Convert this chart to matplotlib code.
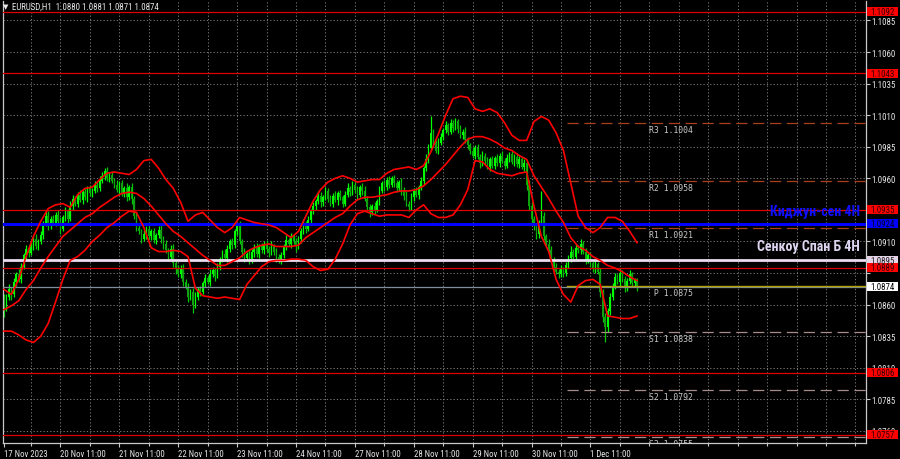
import matplotlib
matplotlib.use("Agg")
import matplotlib.pyplot as plt
import matplotlib.transforms as mtransforms
from matplotlib.patches import Rectangle
from matplotlib import font_manager as fm
from matplotlib.font_manager import FontProperties
from matplotlib.ft2font import FT2Font
import numpy as np

# ---------------- data ----------------
title_text = "\u25BC EURUSD,H1  1.0880 1.0881 1.0871 1.0874"

first_open = 1.0865
closes = [
    1.0858, 1.0866, 1.0872, 1.0868, 1.0878, 1.0884, 1.0880, 1.0890, 1.0899, 1.0904,
    1.0901, 1.0907, 1.0912, 1.0906, 1.0910, 1.0915, 1.0924, 1.0930, 1.0922, 1.0928,
    1.0925, 1.0931, 1.0926, 1.0920, 1.0929, 1.0934, 1.0928, 1.0938, 1.0944, 1.0940,
    1.0947, 1.0943, 1.0949, 1.0945, 1.0952, 1.0948, 1.0950, 1.0955, 1.0952, 1.0958,
    1.0962, 1.0966, 1.0960, 1.0963, 1.0958, 1.0955, 1.0951, 1.0956, 1.0948, 1.0952,
    1.0945, 1.0953, 1.0944, 1.0930, 1.0921, 1.0918, 1.0912, 1.0916, 1.0920, 1.0914,
    1.0918, 1.0911, 1.0915, 1.0919, 1.0912, 1.0908, 1.0903, 1.0898, 1.0904, 1.0893,
    1.0888, 1.0884, 1.0889, 1.0878, 1.0874, 1.0866, 1.0870, 1.0860, 1.0866, 1.0872,
    1.0870, 1.0877, 1.0881, 1.0878, 1.0884, 1.0887, 1.0883, 1.0890, 1.0896, 1.0900,
    1.0897, 1.0904, 1.0910, 1.0907, 1.0918, 1.0922, 1.0910, 1.0902, 1.0897, 1.0900,
    1.0895, 1.0902, 1.0905, 1.0900, 1.0906, 1.0903, 1.0908, 1.0904, 1.0901, 1.0906,
    1.0902, 1.0898, 1.0895, 1.0899, 1.0906, 1.0911, 1.0908, 1.0914, 1.0910, 1.0906,
    1.0912, 1.0918, 1.0924, 1.0920, 1.0927, 1.0934, 1.0938, 1.0942, 1.0946, 1.0941,
    1.0945, 1.0950, 1.0944, 1.0940, 1.0946, 1.0943, 1.0948, 1.0945, 1.0940, 1.0947,
    1.0952, 1.0949, 1.0955, 1.0951, 1.0947, 1.0953, 1.0950, 1.0944, 1.0937, 1.0933,
    1.0938, 1.0935, 1.0942, 1.0950, 1.0956, 1.0953, 1.0959, 1.0955, 1.0960, 1.0956,
    1.0952, 1.0957, 1.0951, 1.0946, 1.0940, 1.0937, 1.0945, 1.0950, 1.0947, 1.0953,
    1.0958, 1.0968, 1.0975, 1.0984, 1.0996, 1.0988, 1.0982, 1.0988, 1.0993, 1.0998,
    1.1002, 1.0997, 1.1004, 1.1000, 1.1005, 1.0999, 1.0994, 1.0997, 1.0990, 1.0986,
    1.0982, 1.0978, 1.0984, 1.0977, 1.0972, 1.0978, 1.0974, 1.0969, 1.0975, 1.0970,
    1.0976, 1.0972, 1.0978, 1.0974, 1.0970, 1.0976, 1.0979, 1.0973, 1.0977, 1.0971,
    1.0975, 1.0969, 1.0972, 1.0955, 1.0938, 1.0928, 1.0922, 1.0916, 1.0925, 1.0930,
    1.0914, 1.0908, 1.0903, 1.0896, 1.0890, 1.0886, 1.0884, 1.0888, 1.0885, 1.0891,
    1.0897, 1.0902, 1.0898, 1.0905, 1.0903, 1.0908, 1.0902, 1.0895, 1.0899, 1.0893,
    1.0888, 1.0892, 1.0886, 1.0870, 1.0850, 1.0842, 1.0855, 1.0866, 1.0875, 1.0882,
    1.0878, 1.0885, 1.0880, 1.0873, 1.0879, 1.0884, 1.0877, 1.0880, 1.0874,
]
# wick lengths in pips above / below the candle body
up_wick_pips = [
    3, 2, 4, 2, 3, 2, 4, 3, 2, 3,
    2, 3, 2, 4, 2, 3, 2, 3, 4, 2,
    3, 2, 4, 3, 2, 3, 2, 4, 3, 2,
    2, 4, 2, 3, 2, 3, 2, 3, 2, 4,
    3, 2, 3, 2, 3, 2, 4, 2, 3, 2,
    4, 2, 3, 2, 3, 4, 2, 3, 2, 3,
    2, 3, 2, 3, 4, 2, 3, 2, 3, 4,
    2, 3, 2, 3, 2, 3, 2, 3, 4, 2,
    3, 2, 3, 2, 4, 3, 2, 3, 2, 3,
    4, 3, 2, 3, 2, 3, 4, 2, 3, 2,
    3, 2, 3, 4, 2, 3, 2, 3, 2, 4,
    2, 3, 2, 3, 2, 4, 2, 3, 2, 3,
    2, 3, 4, 2, 3, 2, 3, 2, 4, 3,
    2, 3, 2, 3, 2, 4, 2, 3, 2, 3,
    4, 2, 3, 2, 3, 2, 3, 4, 2, 3,
    2, 3, 2, 4, 2, 3, 2, 3, 2, 3,
    3, 2, 3, 2, 4, 2, 3, 2, 3, 2,
    3, 2, 4, 3, 13, 3, 2, 4, 3, 2,
    3, 2, 3, 2, 3, 2, 3, 2, 4, 3,
    2, 3, 2, 3, 2, 4, 2, 3, 2, 3,
    2, 3, 2, 4, 2, 3, 2, 3, 2, 3,
    3, 2, 3, 2, 4, 3, 2, 3, 2, 20,
    3, 2, 4, 3, 2, 3, 2, 3, 2, 3,
    2, 4, 2, 3, 2, 4, 2, 3, 2, 3,
    2, 3, 2, 3, 2, 3, 2, 3, 2, 3,
    2, 3, 2, 3, 2, 3, 2, 1, 1,
]
down_wick_pips = [
    8, 3, 2, 4, 2, 3, 2, 3, 2, 3,
    3, 2, 4, 2, 3, 2, 3, 2, 3, 2,
    2, 3, 2, 4, 2, 3, 3, 2, 3, 2,
    3, 2, 3, 2, 4, 2, 3, 2, 3, 2,
    2, 3, 2, 3, 2, 3, 2, 4, 2, 3,
    3, 2, 4, 2, 3, 2, 3, 2, 4, 2,
    3, 2, 3, 2, 3, 4, 2, 3, 2, 3,
    4, 2, 3, 3, 2, 4, 2, 7, 3, 2,
    3, 2, 3, 2, 3, 2, 4, 2, 3, 2,
    2, 3, 2, 3, 2, 3, 2, 4, 3, 2,
    3, 2, 4, 2, 3, 2, 3, 2, 3, 2,
    3, 4, 2, 3, 2, 3, 2, 3, 2, 4,
    2, 3, 2, 3, 2, 3, 2, 3, 2, 4,
    3, 2, 3, 2, 3, 2, 4, 2, 3, 2,
    2, 3, 2, 3, 4, 2, 3, 2, 3, 4,
    2, 3, 2, 3, 2, 3, 2, 3, 2, 3,
    3, 2, 4, 3, 2, 3, 2, 3, 2, 3,
    2, 3, 2, 3, 2, 3, 2, 3, 2, 3,
    2, 3, 2, 3, 2, 3, 2, 3, 2, 3,
    3, 2, 3, 2, 4, 2, 3, 2, 3, 2,
    3, 2, 3, 2, 3, 2, 3, 2, 3, 2,
    3, 2, 3, 4, 3, 4, 3, 4, 3, 2,
    3, 2, 3, 2, 3, 2, 3, 2, 3, 2,
    2, 3, 2, 3, 2, 3, 2, 3, 2, 3,
    2, 3, 2, 4, 4, 12, 4, 3, 2, 3,
    2, 3, 2, 3, 2, 3, 2, 3, 3,
]

# band lines, read every 3 bars
band_step = 3
band_upper = [
    1.0872, 1.0868, 1.0880, 1.0898, 1.0914, 1.0926, 1.0936, 1.0939, 1.0940, 1.0937,
    1.0947, 1.0952, 1.0953, 1.0959, 1.0964, 1.0965, 1.0964, 1.0963, 1.0967, 1.0974,
    1.0975, 1.0968, 1.0959, 1.0952, 1.0941, 1.0926, 1.0931, 1.0933, 1.0927, 1.0921,
    1.0917, 1.0921, 1.0929, 1.0927, 1.0925, 1.0924, 1.0923, 1.0921, 1.0917, 1.0913,
    1.0918, 1.0930, 1.0942, 1.0951, 1.0957, 1.0960, 1.0962, 1.0960, 1.0957, 1.0958,
    1.0959, 1.0959, 1.0964, 1.0967, 1.0968, 1.0969, 1.0967, 1.0970, 1.0981, 1.0995,
    1.1010, 1.1023, 1.1025, 1.1024, 1.1015, 1.1013, 1.1015, 1.1012, 1.1004, 1.0994,
    1.0990, 1.0990, 1.1005, 1.1009, 1.1006, 1.0996, 1.0982, 1.0956, 1.0930, 1.0921,
    1.0917, 1.0921, 1.0929, 1.0929, 1.0926, 1.0918, 1.0909,
]
band_middle = [
    1.0856, 1.0859, 1.0863, 1.0872, 1.0879, 1.0889, 1.0898, 1.0906, 1.0914, 1.0919,
    1.0924, 1.0929, 1.0932, 1.0937, 1.0941, 1.0945, 1.0948, 1.0949, 1.0948, 1.0944,
    1.0938, 1.0931, 1.0924, 1.0918, 1.0914, 1.0909, 1.0904, 1.0899, 1.0895, 1.0891,
    1.0891, 1.0894, 1.0897, 1.0902, 1.0905, 1.0907, 1.0908, 1.0906, 1.0906, 1.0906,
    1.0907, 1.0913, 1.0917, 1.0921, 1.0925, 1.0929, 1.0932, 1.0938, 1.0943, 1.0945,
    1.0945, 1.0946, 1.0947, 1.0949, 1.0950, 1.0950, 1.0951, 1.0954, 1.0959, 1.0965,
    1.0971, 1.0978, 1.0985, 1.0991, 1.0993, 1.0993, 1.0991, 1.0988, 1.0984, 1.0982,
    1.0978, 1.0975, 1.0962, 1.0953, 1.0944, 1.0934, 1.0925, 1.0913, 1.0906, 1.0903,
    1.0898, 1.0895, 1.0891, 1.0889, 1.0886, 1.0882, 1.0879,
]
band_lower = [
    1.0839, 1.0839, 1.0836, 1.0832, 1.0830, 1.0835, 1.0845, 1.0862, 1.0880, 1.0895,
    1.0898, 1.0903, 1.0910, 1.0915, 1.0921, 1.0925, 1.0930, 1.0934, 1.0933, 1.0921,
    1.0905, 1.0902, 1.0902, 1.0903, 1.0902, 1.0898, 1.0873, 1.0867, 1.0866, 1.0865,
    1.0866, 1.0865, 1.0864, 1.0876, 1.0883, 1.0890, 1.0894, 1.0895, 1.0895, 1.0896,
    1.0896, 1.0895, 1.0890, 1.0887, 1.0888, 1.0896, 1.0908, 1.0923, 1.0932, 1.0934,
    1.0932, 1.0930, 1.0931, 1.0931, 1.0931, 1.0929, 1.0935, 1.0939, 1.0932, 1.0929,
    1.0929, 1.0931, 1.0939, 1.0951, 1.0974, 1.0973, 1.0967, 1.0964, 1.0963, 1.0962,
    1.0964, 1.0965, 1.0938, 1.0914, 1.0902, 1.0880, 1.0868, 1.0862, 1.0875, 1.0879,
    1.0880, 1.0876, 1.0851, 1.0850, 1.0849, 1.0849, 1.0851,
]

x_tick_bars = [0, 23, 47, 71, 95, 119, 143, 167, 191, 215, 239]
x_tick_labels = ["17 Nov 2023", "20 Nov 11:00", "21 Nov 11:00", "22 Nov 11:00",
                 "23 Nov 11:00", "24 Nov 11:00", "27 Nov 11:00", "28 Nov 11:00",
                 "29 Nov 11:00", "30 Nov 11:00", "1 Dec 11:00"]
y_tick_values = [1.1085, 1.1060, 1.1035, 1.1010, 1.0985, 1.0960, 1.0935, 1.0910,
                 1.0885, 1.0860, 1.0835, 1.0810, 1.0785, 1.0760]
# scale labels hidden behind price tags in the terminal
y_tick_hidden = [1.0935, 1.0885]

red_levels = [1.1092, 1.1043, 1.0935, 1.0889, 1.0806, 1.0757]
kijun_level = 1.0924
senkou_level = 1.0895
bid_level = 1.0874
pivot_names = ["R3", "R2", "R1", " P", "S1", "S2", "S3"]
pivot_values = [1.1004, 1.0958, 1.0921, 1.0875, 1.0838, 1.0792, 1.0755]
kijun_text = "Киджун-сен 4H"
senkou_text = "Сенкоу Спан Б 4H"
kijun_text_price = 1.0934
senkou_text_price = 1.0906


# ---------------- fonts ----------------
def has_glyphs(path, chars):
    try:
        f = FT2Font(path)
        return all(f.get_char_index(ord(ch)) != 0 for ch in chars)
    except Exception:
        return False


def weight_num(w):
    try:
        return int(w)
    except Exception:
        return {'bold': 700, 'heavy': 800, 'black': 900, 'semibold': 600,
                'demibold': 600, 'extra bold': 800}.get(str(w).lower(), 400)


def find_condensed(bold):
    prefs = ['liberation sans narrow', 'arial narrow', 'roboto condensed',
             'open sans condensed', 'dejavu sans', 'noto sans', 'open sans']
    cands = []
    for f in fm.fontManager.ttflist:
        nm = f.name.lower()
        st = str(f.stretch).lower()
        cond = ('condensed' in st) or ('narrow' in nm) or ('condensed' in nm)
        if not cond or f.style != 'normal' or 'mono' in nm:
            continue
        if 'extra' in st or 'ultra' in st:
            continue
        wn = weight_num(f.weight)
        if bold and wn < 600:
            continue
        if not bold and not (350 <= wn <= 500):
            continue
        if not has_glyphs(f.fname, 'Ж1'):
            continue
        rank = len(prefs)
        for k, p in enumerate(prefs):
            if nm.startswith(p):
                rank = k
                break
        cands.append((rank, f.fname))
    if cands:
        cands.sort()
        return cands[0][1]
    return None


names = {f.name for f in fm.fontManager.ttflist}
small_family = 'Liberation Sans' if 'Liberation Sans' in names else 'DejaVu Sans'
cond_bold = find_condensed(True)
cond_reg = find_condensed(False)
big_fp = (FontProperties(fname=cond_bold) if cond_bold else
          FontProperties(family=['Liberation Sans', 'DejaVu Sans'], weight='bold'))
small_fp = (FontProperties(fname=cond_reg) if cond_reg else
            FontProperties(family=[small_family, 'DejaVu Sans']))
mono_fp = FontProperties(family=['DejaVu Sans Mono'])

# ---------------- figure ----------------
W, H = 900, 460
fig = plt.figure(figsize=(W / 100, H / 100), dpi=100, facecolor='black')
renderer = fig.canvas.get_renderer()


def fit(text, fp, target_w, max_size=None):
    p = fp.copy()
    p.set_size(10)
    t = fig.text(0, 0, text, fontproperties=p)
    w = t.get_window_extent(renderer).width
    t.remove()
    q = fp.copy()
    s = 10 * target_w / max(w, 1)
    if max_size:
        s = min(s, max_size)
    q.set_size(s)
    return q


ytick_fp = fit("1.1085", small_fp, 24, 7.5)
xtick_fp = fit("17 Nov 2023", small_fp, 43, 7.5)
title_fp = fit(title_text.replace("\u25BC ", ""), small_fp, 146, 7.5)
pivot_fp = fit("R3 1.1004", mono_fp, 44)
kijun_fp = fit(kijun_text, big_fp, 90)
senkou_fp = fit(senkou_text, big_fp, 103)

ax = fig.add_axes([3 / W, 16 / H, 863 / W, 442 / H], facecolor='black')
ax.set_xlim(-0.4, 351.3)
ax.set_ylim(1.07504, 1.11004)

PIP = 0.0001
n = min(len(closes), len(up_wick_pips), len(down_wick_pips))
c = np.array(closes[:n])
o = np.array([first_open] + closes[:n - 1])
hi = np.maximum(o, c) + np.array(up_wick_pips[:n]) * PIP
lo = np.minimum(o, c) - np.array(down_wick_pips[:n]) * PIP
idx = np.arange(n)
up = c >= o
ax.vlines(idx, lo, hi, colors=np.where(up, '#00ff00', '#00c800'), lw=0.9, zorder=2)
body_h = np.maximum(np.abs(c - o), 0.00003)
ax.bar(idx, body_h, bottom=np.minimum(o, c), width=0.65,
       color=np.where(up, '#00ff00', '#10a010'), linewidth=0, zorder=2.1)

# grid
grid_kw = dict(color='#8a8a8a', lw=0.6, linestyle=(0, (1.5, 2.5)), zorder=1)
for yv in y_tick_values:
    ax.axhline(yv, **grid_kw)
grid_bars = np.arange(11, 352, 12)
for gb in grid_bars:
    ax.axvline(gb, **grid_kw)

# horizontal levels
for lv in red_levels:
    ax.axhline(lv, color='#e00000', lw=0.9, zorder=3)
ax.axhline(bid_level, color='#7f8c99', lw=0.9, zorder=3)
ax.axhline(kijun_level, color='#0000ff', lw=2.2, zorder=3.2)
ax.axhline(senkou_level, color='#ecdcf0', lw=2.0, zorder=3.2)

# pivot levels
piv_start = (567 - 3) / 863
trans_b = mtransforms.blended_transform_factory(ax.transAxes, ax.transData)
tt = mtransforms.offset_copy(trans_b, fig=fig, x=0, y=-2, units='dots')
for name, val in zip(pivot_names, pivot_values):
    if name.strip() == 'P':
        ax.axhline(val, xmin=piv_start, xmax=1, color='#b0a000', lw=1.0, zorder=3.1)
    else:
        col = '#a8401c' if name.startswith('R') else '#a88c8c'
        ax.axhline(val, xmin=piv_start, xmax=1, color=col, lw=0.9,
                   linestyle=(0, (9, 4.5)), zorder=3.1)
    ax.text((649 - 3) / 863, val, f"{name} {val:.4f}", transform=tt,
            ha='left', va='top', fontproperties=pivot_fp, color='#c8c8c8',
            zorder=5, clip_on=True)

# bands
band_x = np.arange(0, band_step * len(band_upper), band_step)
for band in (band_upper, band_middle, band_lower):
    ax.plot(band_x[:len(band)], band, color='#ff0000', lw=1.2, zorder=4,
            solid_joinstyle='round')

# big labels
ax.text((860 - 3) / 863, kijun_text_price, kijun_text, transform=trans_b,
        ha='right', va='center', fontproperties=kijun_fp, color='#1010ff', zorder=6)
ax.text((860 - 3) / 863, senkou_text_price, senkou_text, transform=trans_b,
        ha='right', va='center', fontproperties=senkou_fp, color='#ddd5f0', zorder=6)

# axes styling
for side in ('left', 'bottom', 'right'):
    ax.spines[side].set_color('#c8c8c8')
    ax.spines[side].set_linewidth(0.9)
ax.spines['top'].set_visible(False)

ax.yaxis.tick_right()
ax.set_yticks(y_tick_values)
ax.set_yticklabels(["" if v in y_tick_hidden else f"{v:.4f}" for v in y_tick_values])
ax.tick_params(axis='y', colors='#c8c8c8', labelcolor='#e8e8e8',
               length=3, width=0.8, pad=1, direction='out')
for lbl in ax.get_yticklabels():
    lbl.set_fontproperties(ytick_fp)
ax.set_xticks(x_tick_bars)
ax.set_xticklabels(x_tick_labels, ha='left')
ax.set_xticks(grid_bars[grid_bars < 351], minor=True)
ax.tick_params(axis='x', which='major', colors='#c8c8c8', labelcolor='#e8e8e8',
               length=3, width=0.8, pad=1.5)
ax.tick_params(axis='x', which='minor', colors='#c8c8c8', length=2, width=0.8)
for lbl in ax.get_xticklabels():
    lbl.set_fontproperties(xtick_fp)

# price tags on the right scale
fig.canvas.draw()
tags = [(1.1092, '#ff0000', '#300000'), (1.1043, '#ff0000', '#300000'),
        (1.0935, '#ff0000', '#300000'), (kijun_level, '#0000ff', '#000020'),
        (senkou_level, '#e4d4e8', '#202020'), (1.0889, '#ff0000', '#300000'),
        (bid_level, '#ffffff', '#000000'), (1.0806, '#ff0000', '#300000'),
        (1.0757, '#ff0000', '#300000')]
for val, bg, fg in tags:
    yd = ax.transData.transform((0, val))[1]
    fig.add_artist(Rectangle((867, yd - 4.5), 31, 9, transform=None,
                             facecolor=bg, edgecolor='none', zorder=5))
    fig.text(870 / W, yd / H, f"{val:.4f}", ha='left', va='center',
             fontproperties=ytick_fp, color=fg, zorder=6)

fig.text(3 / W, 1 - 7.5 / H, "\u25BC", ha='left', va='center', fontsize=5,
         family='DejaVu Sans', color='#e8e8e8')
fig.text(12 / W, 1 - 7.5 / H, title_text.replace("\u25BC ", ""), ha='left', va='center',
         fontproperties=title_fp, color='#e8e8e8')

fig.savefig('out.png', dpi=100, facecolor='black')
